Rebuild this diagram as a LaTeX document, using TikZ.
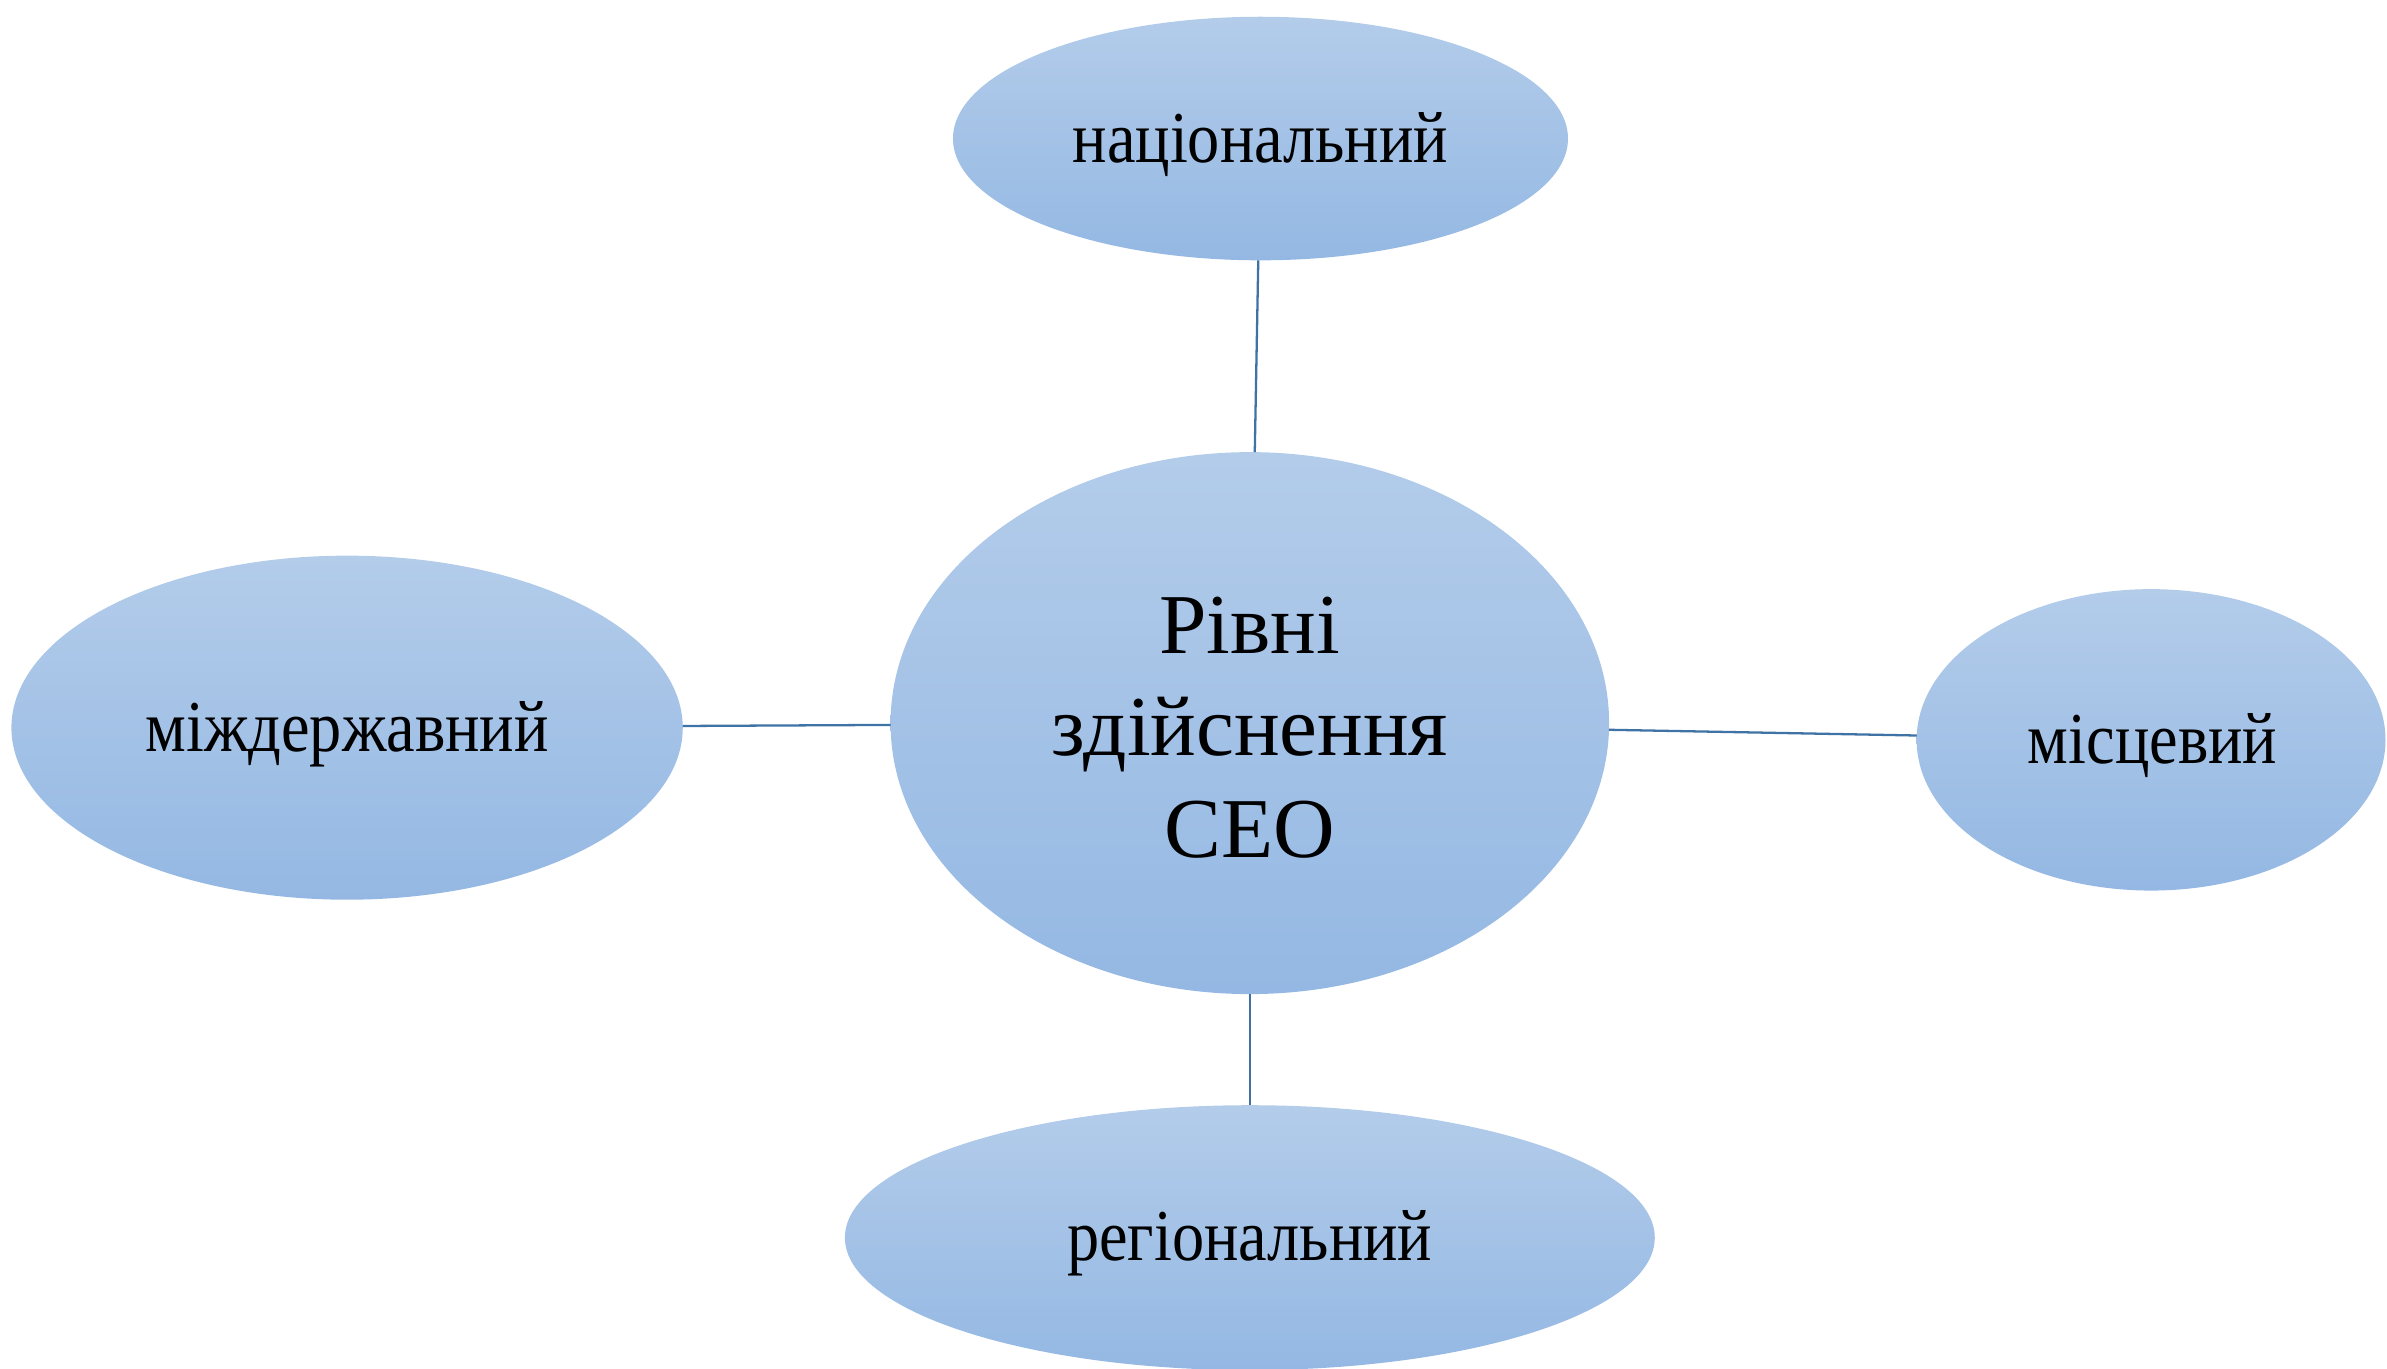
\documentclass[tikz,border=0pt]{standalone}
\usepackage{fontspec}
\setmainfont{Liberation Serif}
\newfontfamily\condfont{Liberation Serif}[FakeStretch=0.88]
\usetikzlibrary{shapes.geometric}
\definecolor{topblue}{HTML}{B3CCEA}
\definecolor{botblue}{HTML}{94B8E3}
\definecolor{linkblue}{HTML}{3F72A5}
\tikzset{
  blob/.style={ellipse, inner sep=0pt, outer sep=0pt, top color=topblue, bottom color=botblue, draw=none},
  small/.style={font=\condfont\fontsize{48}{54}\selectfont},
  link/.style={draw=linkblue, line width=1.5pt}
}
\begin{document}
\begin{tikzpicture}[x=1pt,y=-1pt]
\useasboundingbox (0,0) rectangle (1568,899);
\node[blob, minimum width=404pt, minimum height=160pt] (nat) at (828,91) {};
\node[blob, minimum width=472pt, minimum height=356pt] (ctr) at (821,475) {};
\node[blob, minimum width=441pt, minimum height=226pt] (int) at (228,478) {};
\node[blob, minimum width=308pt, minimum height=198pt] (loc) at (1413,486) {};
\node[blob, minimum width=532pt, minimum height=174pt] (reg) at (821,813) {};
\node[small] (natt) at (828,95) {національний};
\node[small] (intt) at (228,482) {міждержавний};
\node[small] (loct) at (1414,490) {місцевий};
\node[small] (regt) at (821,817) {регіональний};
\node[font=\fontsize{56}{67}\selectfont, align=center] (ctrt) at (821,478) {Рівні\\здійснення\\СЕО};
\draw[link] (nat) -- (ctr);
\draw[link] (int) -- (ctr);
\draw[link] (ctr) -- (loc);
\draw[link] (ctr) -- (reg);
\end{tikzpicture}
\end{document}
